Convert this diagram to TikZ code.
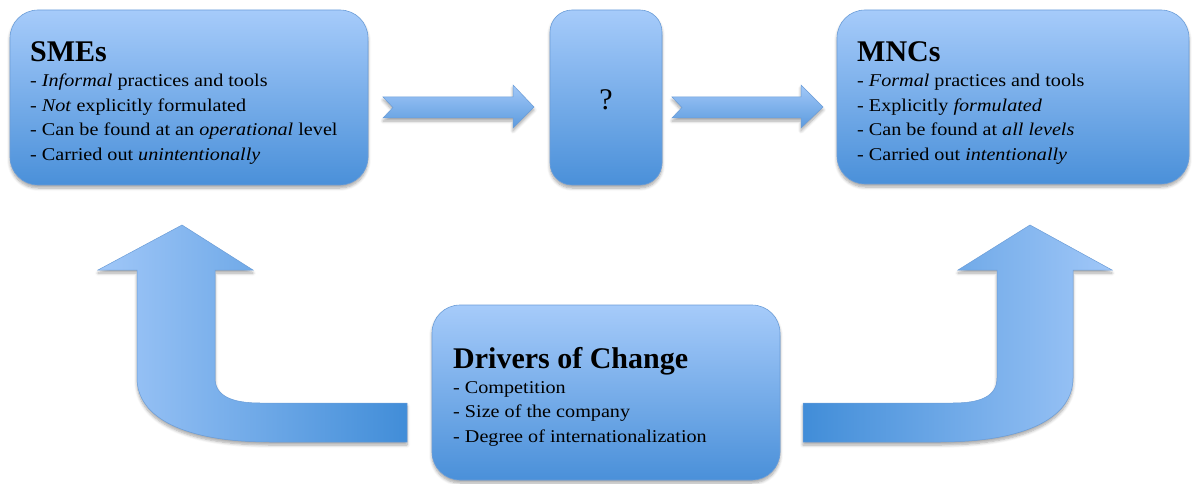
\documentclass[tikz,border=0pt]{standalone}
\usepackage{fontspec}
\setmainfont{Liberation Serif}
\newfontfamily\bodyfont{Liberation Serif}[FakeStretch=1.12]
\usetikzlibrary{shadows.blur}
\definecolor{boxtop}{HTML}{A6CBFA}
\definecolor{boxbot}{HTML}{4A90D9}
\definecolor{arrtop}{HTML}{A2C8F8}
\definecolor{arrbot}{HTML}{5C9BDE}
\definecolor{bentlight}{HTML}{A0C7F8}
\definecolor{bentdark}{HTML}{418DD8}
\definecolor{edgeblue}{HTML}{6B9DD8}
\tikzset{
  shad/.style={blur shadow={shadow blur steps=6, shadow xshift=0pt, shadow yshift=-3pt, shadow opacity=35, shadow blur radius=3pt}},
  box/.style={draw=edgeblue, line width=0.6pt, top color=boxtop, bottom color=boxbot,
    rounded corners=#1, inner sep=0pt, shad},
  box/.default=28pt,
  flatarrow/.style={draw=edgeblue, line width=0.5pt, top color=arrtop, bottom color=arrbot, shad},
  bentleft/.style={draw=edgeblue, line width=0.5pt, left color=bentlight, right color=bentdark, shad},
  bentright/.style={draw=edgeblue, line width=0.5pt, left color=bentdark, right color=bentlight, shad},
  ttl/.style={anchor=base west, inner sep=0pt, font=\fontsize{30}{30}\selectfont\bfseries},
  itm/.style={anchor=base west, inner sep=0pt, font=\bodyfont\fontsize{18}{20}\selectfont},
}
\begin{document}
\begin{tikzpicture}[x=1pt,y=-1pt]
\useasboundingbox (0,0) rectangle (1192,484);

% bent arrows (behind)
\path[bentleft] (182,225) -- (253,270) -- (215,270) -- (215,378)
  .. controls (215,396) and (232,403) .. (260,403) -- (407,403) -- (407,442)
  -- (270,442) .. controls (185,442) and (137,418) .. (137,378)
  -- (137,270) -- (98,270) -- cycle;
\path[bentright] (1030,225) -- (1112,270) -- (1073,270) -- (1073,378)
  .. controls (1073,418) and (1025,442) .. (940,442) -- (803,442) -- (803,403)
  -- (953,403) .. controls (981,403) and (997,396) .. (997,378)
  -- (997,270) -- (958,270) -- cycle;

% boxes
\node[box, minimum width=358pt, minimum height=175pt] (smes) at (189,97.5) {};
\node[box=22pt, minimum width=112pt, minimum height=175pt] (mid) at (606,97.5) {};
\node[box, minimum width=352pt, minimum height=174pt] (mncs) at (1013,97) {};
\node[box, minimum width=348pt, minimum height=175pt] (drv) at (606,392.5) {};

% flat arrows
\path[flatarrow] (383,97) -- (513,97) -- (513,85) -- (534,107) -- (513,128)
  -- (513,118) -- (383,118) -- (393,107.5) -- cycle;
\path[flatarrow] (672,97) -- (801,97) -- (801,85) -- (823,107) -- (801,128)
  -- (801,118) -- (672,118) -- (682,107.5) -- cycle;

% SMEs text
\node[ttl] (smesT) at (30,62) {SMEs};
\node[itm] (s1) at (30,87) {- \textit{Informal} practices and tools};
\node[itm] (s2) at (30,111.5) {- \textit{Not} explicitly formulated};
\node[itm] (s3) at (30,136) {- Can be found at an \textit{operational} level};
\node[itm] (s4) at (30,160.5) {- Carried out \textit{unintentionally}};

% middle
\node[inner sep=0pt, font=\fontsize{30}{30}\selectfont] (q) at (606,100) {?};

% MNCs text
\node[ttl] (mncsT) at (857,62) {MNCs};
\node[itm] (m1) at (857,87) {- \textit{Formal} practices and tools};
\node[itm] (m2) at (857,111.5) {- Explicitly \textit{formulated}};
\node[itm] (m3) at (857,136) {- Can be found at \textit{all levels}};
\node[itm] (m4) at (857,160.5) {- Carried out \textit{intentionally}};

% Drivers text
\node[ttl] (drvT) at (453,368) {Drivers of Change};
\node[itm] (d1) at (453,393) {- Competition};
\node[itm] (d2) at (453,417.5) {- Size of the company};
\node[itm] (d3) at (453,442) {- Degree of internationalization};
\end{tikzpicture}
\end{document}
